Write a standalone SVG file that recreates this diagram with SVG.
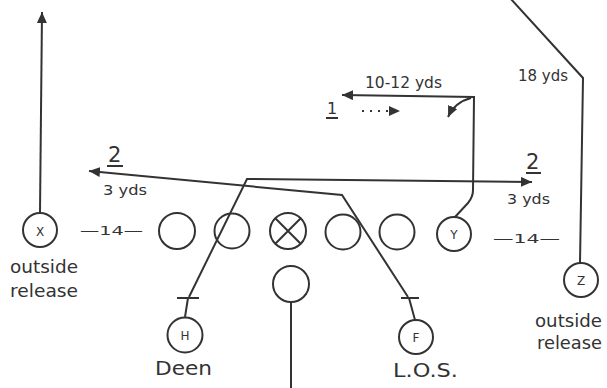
<svg xmlns="http://www.w3.org/2000/svg" width="607" height="388" viewBox="0 0 607 388">
<style>
.p{fill:none;stroke:#333;stroke-width:2}
.c{fill:none;stroke:#333;stroke-width:2}
.t{font-family:"DejaVu Sans","Liberation Sans",sans-serif;fill:#333}
.s{font-size:14px}
.l{font-size:12px;text-anchor:middle}
.b{font-size:21px}
</style>
<defs>
<marker id="ah" markerUnits="userSpaceOnUse" markerWidth="12" markerHeight="10" refX="11" refY="5" orient="auto">
<path d="M0,0 L11,5 L0,10 Z" fill="#333"/>
</marker>
</defs>
<rect width="607" height="388" fill="#fff"/>
<g id="connectors">
<path class="p" d="M40,212 L42,12" marker-end="url(#ah)"/>
<path class="p" d="M455,217 L468,203 Q473,197 473,190 L474,97 L342,95" marker-end="url(#ah)"/>
<path class="p" d="M471,98 Q455,102 448,117" marker-end="url(#ah)"/>
<path class="p" d="M362,111 L390,111" stroke-dasharray="2,6"/>
<path d="M389,106 L400,111 L389,116 Z" fill="#333"/>
<path class="p" d="M185,317 L188,298 M177,298 H199 M189,297 L247,179 L532,182" marker-end="url(#ah)"/>
<path class="p" d="M415,320 L409,298 M401,298 H419 M408,297 L342,195 L89,171" marker-end="url(#ah)"/>
<path class="p" d="M580,263 L583,78 L510,-2"/>
<path class="p" d="M291,302 L291,390"/>
</g>
<g id="X"><circle class="c" cx="40" cy="230" r="17"/><text class="t l" font-size="15" x="40" y="236">X</text></g>
<g id="T1"><circle class="c" cx="177" cy="231" r="18"/></g>
<g id="T2"><circle class="c" cx="232" cy="231" r="17.5"/></g>
<g id="C"><circle class="c" cx="288" cy="231" r="18"/><path class="p" d="M275.3,218.3 L300.7,243.7 M300.7,218.3 L275.3,243.7"/></g>
<g id="T3"><circle class="c" cx="343" cy="232" r="17.5"/></g>
<g id="T4"><circle class="c" cx="397" cy="232" r="17.5"/></g>
<g id="Y"><circle class="c" cx="454" cy="234" r="17"/><text class="t l" x="454" y="239">Y</text></g>
<g id="QB"><circle class="c" cx="291" cy="284" r="18"/></g>
<g id="H"><circle class="c" cx="185" cy="335" r="17.5"/><text class="t l" x="185" y="340">H</text></g>
<g id="F"><circle class="c" cx="416" cy="337" r="17"/><text class="t l" x="416" y="342">F</text></g>
<g id="Z"><circle class="c" cx="581" cy="280" r="17"/><text class="t l" x="581" y="285">Z</text></g>
<g id="labels">
<text class="t" font-size="13" x="80" y="235" textLength="63" lengthAdjust="spacingAndGlyphs">—14—</text>
<text class="t" font-size="13" x="493" y="243" textLength="67" lengthAdjust="spacingAndGlyphs">—14—</text>
<text class="t" font-size="17" x="10" y="273" textLength="68" lengthAdjust="spacingAndGlyphs">outside</text>
<text class="t" font-size="17" x="10" y="297" textLength="68" lengthAdjust="spacingAndGlyphs">release</text>
<text class="t" font-size="17" x="535" y="327" textLength="67" lengthAdjust="spacingAndGlyphs">outside</text>
<text class="t" font-size="17" x="537" y="349" textLength="65" lengthAdjust="spacingAndGlyphs">release</text>
<text class="t" font-size="19" x="155" y="375" textLength="57" lengthAdjust="spacingAndGlyphs">Deen</text>
<text class="t" font-size="19" x="393" y="377" textLength="65" lengthAdjust="spacingAndGlyphs">L.O.S.</text>
<text class="t s" x="103" y="195" textLength="44" lengthAdjust="spacingAndGlyphs">3 yds</text>
<text class="t s" x="507" y="204" textLength="43" lengthAdjust="spacingAndGlyphs">3 yds</text>
<text class="t" font-size="15" x="518" y="81" textLength="50" lengthAdjust="spacingAndGlyphs">18 yds</text>
<text class="t" font-size="15" x="365" y="88" textLength="77" lengthAdjust="spacingAndGlyphs">10-12 yds</text>
<text class="t b" x="108" y="162">2</text>
<path class="p" d="M107,166 H123"/>
<text class="t b" x="526" y="169">2</text>
<path class="p" d="M526,173 H541"/>
<text class="t" font-size="16" x="327" y="114">1</text>
<path class="p" d="M326,118 H338"/>
</g>
</svg>
